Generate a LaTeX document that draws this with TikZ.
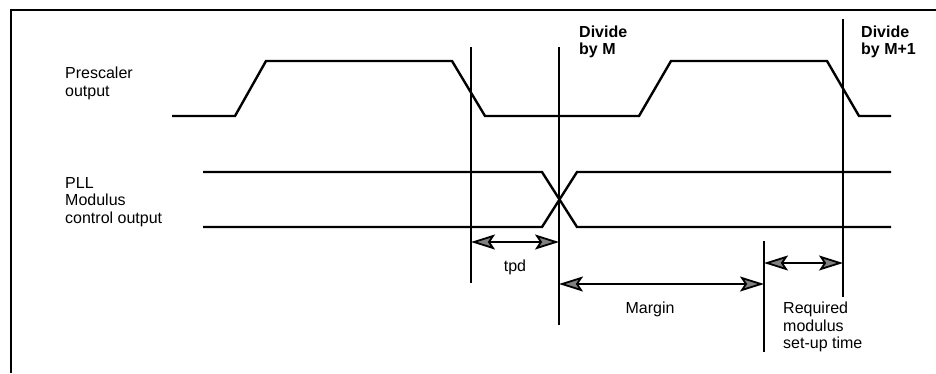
\documentclass[tikz,border=0pt]{standalone}
\usepackage{fontspec}
\setmainfont{Liberation Sans}
\usetikzlibrary{arrows.meta}
\begin{document}
\begin{tikzpicture}[x=1pt,y=-1pt,
  frame/.style={line width=2.2pt},
  wave/.style={line width=2.4pt, line join=miter},
  marker/.style={line width=2.2pt},
  dim/.style={line width=1.8pt,
    {Stealth[length=24pt,width=15pt,inset=5pt,fill=gray]}-{Stealth[length=24pt,width=15pt,inset=5pt,fill=gray]}},
  lbl/.style={font=\fontsize{16}{17.5}\selectfont, inner sep=0pt, align=left},
  blbl/.style={lbl, font=\fontsize{16}{17}\selectfont\bfseries}]
\useasboundingbox (0,0) rectangle (936,373);

% frame (only left and top edges visible)
\coordinate (fbl) at (11,373);
\coordinate (ftl) at (11,10);
\coordinate (ftr) at (936,10);
\draw[frame] (fbl) -- (ftl) -- (ftr);

% labels
\node[lbl, anchor=north west] (presc) at (65,67) {Prescaler\\output};
\node[lbl, anchor=north west] (pll) at (65,177) {PLL\\Modulus\\control output};
\node[blbl, anchor=north west] (divm) at (579,26) {Divide\\by M};
\node[blbl, anchor=north west] (divm1) at (861,26) {Divide\\by M+1};
\node[lbl, anchor=base] (tpd) at (515,271) {tpd};
\node[lbl, anchor=base] (margin) at (650,313) {Margin};
\node[lbl, anchor=north west] (req) at (783,302) {Required\\modulus\\set-up time};

% prescaler waveform
\coordinate (p0) at (172,116);
\coordinate (p1) at (235,116);
\coordinate (p2) at (266,61);
\coordinate (p3) at (452,61);
\coordinate (p4) at (485,116);
\coordinate (p5) at (639,116);
\coordinate (p6) at (671,61);
\coordinate (p7) at (827,61);
\coordinate (p8) at (859,116);
\coordinate (p9) at (891,116);
\draw[wave] (p0) -- (p1) -- (p2) -- (p3) -- (p4) -- (p5) -- (p6) -- (p7) -- (p8) -- (p9);

% PLL modulus control waveform
\coordinate (mhs) at (203,172);
\coordinate (mhc) at (542,172);
\coordinate (mlc2) at (577,227);
\coordinate (mle) at (891,227);
\coordinate (mls) at (203,227);
\coordinate (mlc) at (542,227);
\coordinate (mhc2) at (577,172);
\coordinate (mhe) at (891,172);
\draw[wave] (mhs) -- (mhc) -- (mlc2) -- (mle);
\draw[wave] (mls) -- (mlc) -- (mhc2) -- (mhe);

% vertical marker lines
\coordinate (v1t) at (471,47);  \coordinate (v1b) at (471,283);
\coordinate (v2t) at (559,47);  \coordinate (v2b) at (559,325);
\coordinate (v3t) at (843,19);  \coordinate (v3b) at (843,297);
\coordinate (v4t) at (764,241); \coordinate (v4b) at (764,352);
\draw[marker] (v1t) -- (v1b);
\draw[marker] (v2t) -- (v2b);
\draw[marker] (v3t) -- (v3b);
\draw[marker] (v4t) -- (v4b);

% dimension arrows
\coordinate (a1l) at (471,242);  \coordinate (a1r) at (559,242);
\coordinate (a2l) at (559,284);  \coordinate (a2r) at (764,284);
\coordinate (a3l) at (764,263);  \coordinate (a3r) at (843,263);
\draw[dim] (a1l) -- (a1r);
\draw[dim] (a2l) -- (a2r);
\draw[dim] (a3l) -- (a3r);
\end{tikzpicture}
\end{document}
